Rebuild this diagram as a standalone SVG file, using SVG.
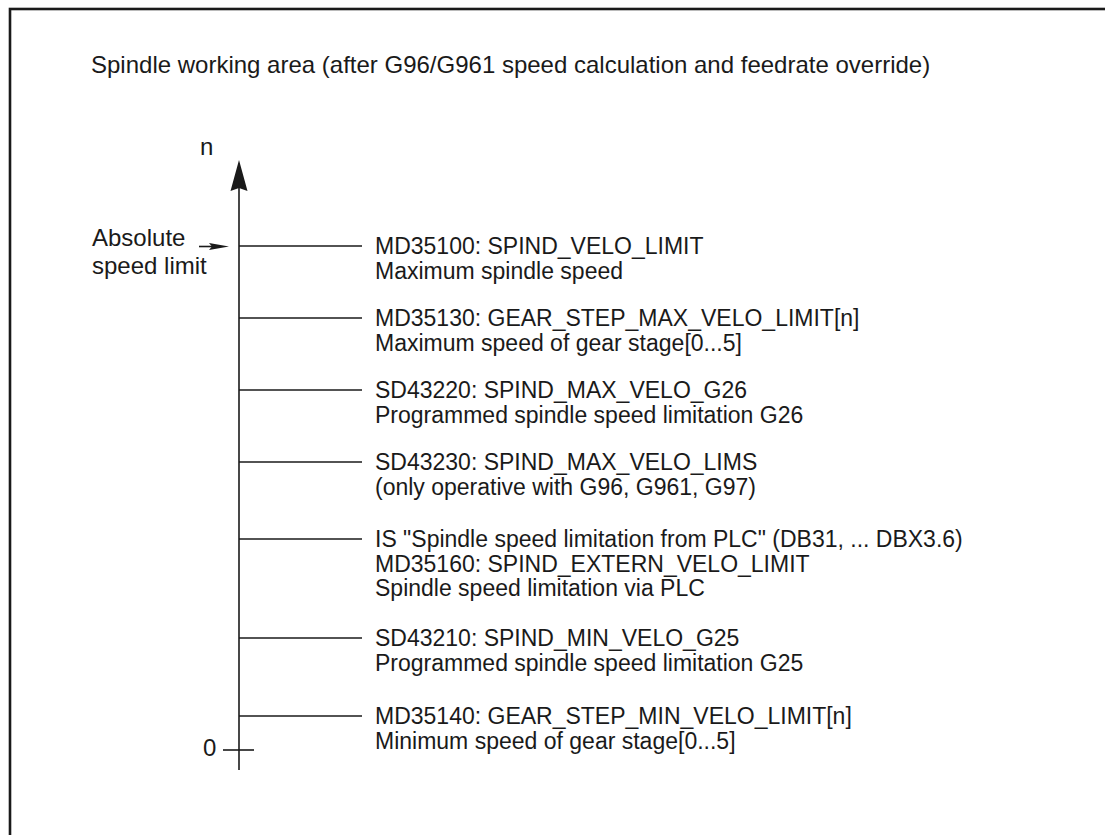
<svg xmlns="http://www.w3.org/2000/svg" width="1105" height="835" viewBox="0 0 1105 835">
<style>
text{font-family:"Liberation Sans",Arial,sans-serif;fill:#1a1a1a}
.t{font-size:24px}
.l{font-size:23px}
.ln{stroke:#1a1a1a;stroke-width:1.6;fill:none}
</style>
<rect x="10" y="9" width="1110" height="840" fill="#fff" stroke="#1a1a1a" stroke-width="2.6"/>
<text class="t" x="91" y="73">Spindle working area (after G96/G961 speed calculation and feedrate override)</text>
<g id="axis">
<line class="ln" x1="239" y1="185" x2="239" y2="770"/>
<polygon points="239,160 230.5,191 239,188 247.5,191" fill="#1a1a1a"/>
<text class="t" x="200" y="155">n</text>
<line class="ln" x1="223" y1="750" x2="254" y2="750"/>
<text class="t" x="203" y="756">0</text>
</g>
<g id="abs">
<text class="t" x="92" y="246">Absolute</text>
<text class="t" x="92" y="274">speed limit</text>
<line class="ln" x1="199" y1="246.5" x2="215" y2="246.5"/>
<polygon points="229,246.5 209,243 212,246.5 209,250" fill="#1a1a1a"/>
</g>
<g id="connectors">
<line class="ln" x1="239" y1="246" x2="362" y2="246"/>
<line class="ln" x1="239" y1="318" x2="362" y2="318"/>
<line class="ln" x1="239" y1="390" x2="362" y2="390"/>
<line class="ln" x1="239" y1="462" x2="362" y2="462"/>
<line class="ln" x1="239" y1="539" x2="362" y2="539"/>
<line class="ln" x1="239" y1="638" x2="362" y2="638"/>
<line class="ln" x1="239" y1="716" x2="362" y2="716"/>
</g>
<g id="n1"><text class="l" x="375" y="254">MD35100: SPIND_VELO_LIMIT</text><text class="l" x="375" y="278.5">Maximum spindle speed</text></g>
<g id="n2"><text class="l" x="375" y="326">MD35130: GEAR_STEP_MAX_VELO_LIMIT[n]</text><text class="l" x="375" y="350.5">Maximum speed of gear stage[0...5]</text></g>
<g id="n3"><text class="l" x="375" y="398">SD43220: SPIND_MAX_VELO_G26</text><text class="l" x="375" y="422.5">Programmed spindle speed limitation G26</text></g>
<g id="n4"><text class="l" x="375" y="470">SD43230: SPIND_MAX_VELO_LIMS</text><text class="l" x="375" y="494.5">(only operative with G96, G961, G97)</text></g>
<g id="n5"><text class="l" x="375" y="547">IS "Spindle speed limitation from PLC" (DB31, ... DBX3.6)</text><text class="l" x="375" y="571.5">MD35160: SPIND_EXTERN_VELO_LIMIT</text><text class="l" x="375" y="596">Spindle speed limitation via PLC</text></g>
<g id="n6"><text class="l" x="375" y="646">SD43210: SPIND_MIN_VELO_G25</text><text class="l" x="375" y="670.5">Programmed spindle speed limitation G25</text></g>
<g id="n7"><text class="l" x="375" y="724">MD35140: GEAR_STEP_MIN_VELO_LIMIT[n]</text><text class="l" x="375" y="748.5">Minimum speed of gear stage[0...5]</text></g>
</svg>
